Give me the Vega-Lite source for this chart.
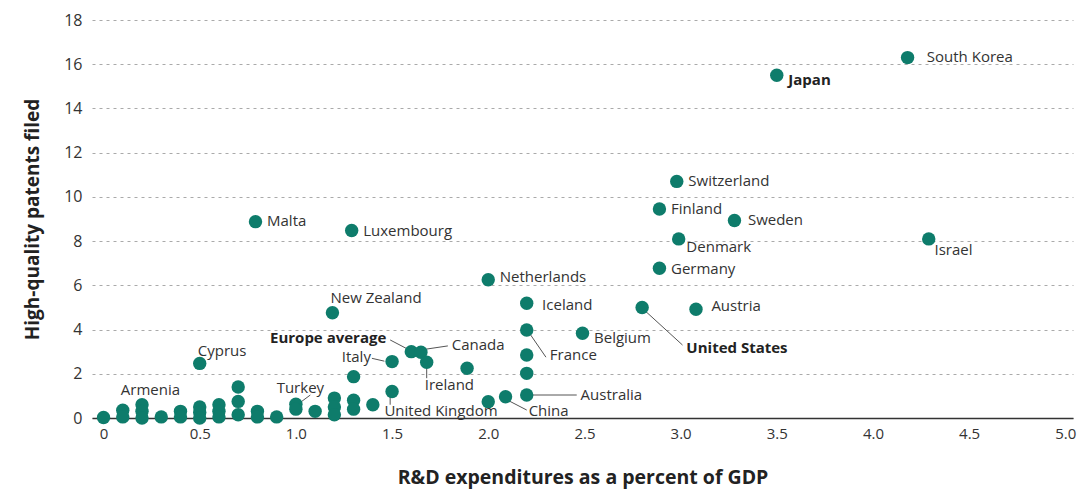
{
  "$schema": "https://vega.github.io/schema/vega-lite/v6.json",
  "width": 981,
  "height": 398,
  "autosize": {"type": "none"},
  "padding": {"left": 92, "top": 20, "right": 6, "bottom": 72},
  "background": "white",
  "config": {
    "view": {"stroke": null},
    "font": "Open Sans"
  },
  "datasets": {
    "points": [
      {"name": "South Korea", "rd": 4.18, "patents": 16.3},
      {"name": "Japan", "rd": 3.5, "patents": 15.5},
      {"name": "Switzerland", "rd": 2.98, "patents": 10.7},
      {"name": "Finland", "rd": 2.89, "patents": 9.45},
      {"name": "Sweden", "rd": 3.28, "patents": 8.93},
      {"name": "Denmark", "rd": 2.99, "patents": 8.1},
      {"name": "Israel", "rd": 4.29, "patents": 8.1},
      {"name": "Germany", "rd": 2.89, "patents": 6.77},
      {"name": "Malta", "rd": 0.79, "patents": 8.88},
      {"name": "Luxembourg", "rd": 1.29, "patents": 8.48},
      {"name": "Netherlands", "rd": 2.0, "patents": 6.25},
      {"name": "New Zealand", "rd": 1.19, "patents": 4.76},
      {"name": "Iceland", "rd": 2.2, "patents": 5.19},
      {"name": "Austria", "rd": 3.08, "patents": 4.92},
      {"name": "United States", "rd": 2.8, "patents": 5.0},
      {"name": "France", "rd": 2.2, "patents": 3.98},
      {"name": "Belgium", "rd": 2.49, "patents": 3.83},
      {"name": "Europe average", "rd": 1.6, "patents": 3.0},
      {"name": "Canada", "rd": 1.65, "patents": 2.97},
      {"name": "Italy", "rd": 1.5, "patents": 2.55},
      {"name": "Ireland", "rd": 1.68, "patents": 2.52},
      {"name": "Cyprus", "rd": 0.5, "patents": 2.47},
      {"name": "", "rd": 1.89, "patents": 2.25},
      {"name": "", "rd": 2.2, "patents": 2.85},
      {"name": "", "rd": 2.2, "patents": 2.02},
      {"name": "", "rd": 1.3, "patents": 1.87},
      {"name": "Australia", "rd": 2.2, "patents": 1.04},
      {"name": "China", "rd": 2.09, "patents": 0.96},
      {"name": "", "rd": 2.0, "patents": 0.74},
      {"name": "United Kingdom", "rd": 1.5, "patents": 1.2},
      {"name": "", "rd": 1.4, "patents": 0.6},
      {"name": "", "rd": 1.3, "patents": 0.8},
      {"name": "", "rd": 1.3, "patents": 0.4},
      {"name": "", "rd": 1.2, "patents": 0.9},
      {"name": "", "rd": 1.2, "patents": 0.5},
      {"name": "", "rd": 1.2, "patents": 0.15},
      {"name": "", "rd": 1.1, "patents": 0.3},
      {"name": "Turkey", "rd": 1.0, "patents": 0.62},
      {"name": "", "rd": 1.0, "patents": 0.4},
      {"name": "", "rd": 0.9, "patents": 0.05},
      {"name": "", "rd": 0.8, "patents": 0.3},
      {"name": "", "rd": 0.8, "patents": 0.05},
      {"name": "", "rd": 0.7, "patents": 1.4},
      {"name": "", "rd": 0.7, "patents": 0.75},
      {"name": "", "rd": 0.7, "patents": 0.15},
      {"name": "", "rd": 0.6, "patents": 0.6},
      {"name": "", "rd": 0.6, "patents": 0.3},
      {"name": "", "rd": 0.6, "patents": 0.05},
      {"name": "", "rd": 0.5, "patents": 0.5},
      {"name": "", "rd": 0.5, "patents": 0.25},
      {"name": "", "rd": 0.5, "patents": 0.0},
      {"name": "", "rd": 0.4, "patents": 0.3},
      {"name": "", "rd": 0.4, "patents": 0.05},
      {"name": "", "rd": 0.3, "patents": 0.05},
      {"name": "Armenia", "rd": 0.2, "patents": 0.6},
      {"name": "", "rd": 0.2, "patents": 0.3},
      {"name": "", "rd": 0.2, "patents": 0.0},
      {"name": "", "rd": 0.1, "patents": 0.35},
      {"name": "", "rd": 0.1, "patents": 0.05},
      {"name": "", "rd": 0.0, "patents": 0.02}
    ],
    "labels": [
      {"name": "South Korea", "lx": 4.28, "ly": 16.33},
      {"name": "Japan", "lx": 3.56, "ly": 15.3},
      {"name": "Switzerland", "lx": 3.04, "ly": 10.7},
      {"name": "Finland", "lx": 2.95, "ly": 9.46},
      {"name": "Sweden", "lx": 3.35, "ly": 8.96},
      {"name": "Denmark", "lx": 3.03, "ly": 7.74},
      {"name": "Israel", "lx": 4.32, "ly": 7.6},
      {"name": "Germany", "lx": 2.95, "ly": 6.74},
      {"name": "Malta", "lx": 0.85, "ly": 8.9},
      {"name": "Luxembourg", "lx": 1.35, "ly": 8.46},
      {"name": "New Zealand", "lx": 1.18, "ly": 5.43},
      {"name": "Netherlands", "lx": 2.06, "ly": 6.38},
      {"name": "Iceland", "lx": 2.28, "ly": 5.11},
      {"name": "Austria", "lx": 3.16, "ly": 5.07},
      {"name": "Belgium", "lx": 2.55, "ly": 3.62},
      {"name": "United States", "lx": 3.03, "ly": 3.17},
      {"name": "France", "lx": 2.32, "ly": 2.85},
      {"name": "Australia", "lx": 2.48, "ly": 1.04},
      {"name": "China", "lx": 2.21, "ly": 0.32},
      {"name": "United Kingdom", "lx": 1.46, "ly": 0.32},
      {"name": "Ireland", "lx": 1.67, "ly": 1.49},
      {"name": "Canada", "lx": 1.81, "ly": 3.3},
      {"name": "Europe average", "lx": 1.47, "ly": 3.62},
      {"name": "Italy", "lx": 1.39, "ly": 2.76},
      {"name": "Cyprus", "lx": 0.49, "ly": 3.05},
      {"name": "Armenia", "lx": 0.09, "ly": 1.27},
      {"name": "Turkey", "lx": 0.9, "ly": 1.35}
    ],
    "leaders": [
      {"name": "United States", "x": 2.82, "y": 4.81, "x2": 3.01, "y2": 3.3},
      {"name": "France", "x": 2.22, "y": 3.76, "x2": 2.3, "y2": 2.75},
      {"name": "Australia", "x": 2.22, "y": 1.04, "x2": 2.46, "y2": 1.04},
      {"name": "China", "x": 2.1, "y": 0.81, "x2": 2.2, "y2": 0.36},
      {"name": "United Kingdom", "x": 1.49, "y": 0.95, "x2": 1.49, "y2": 0.6},
      {"name": "Ireland", "x": 1.68, "y": 2.32, "x2": 1.68, "y2": 1.8},
      {"name": "Canada", "x": 1.65, "y": 3.08, "x2": 1.79, "y2": 3.26},
      {"name": "Europe average", "x": 1.49, "y": 3.53, "x2": 1.58, "y2": 3.12},
      {"name": "Italy", "x": 1.395, "y": 2.7, "x2": 1.46, "y2": 2.57},
      {"name": "Turkey", "x": 1.075, "y": 1.04, "x2": 1.01, "y2": 0.62}
    ]
  },
  "layer": [
    {
      "data": {"name": "leaders"},
      "mark": {"type": "rule", "color": "#555555", "strokeWidth": 1},
      "encoding": {
        "x": {"field": "x", "type": "quantitative", "scale": {"domain": [-0.06, 5.04], "nice": false, "zero": false}},
        "y": {"field": "y", "type": "quantitative", "scale": {"domain": [0, 18], "nice": false}},
        "x2": {"field": "x2"},
        "y2": {"field": "y2"}
      }
    },
    {
      "data": {"name": "points"},
      "mark": {"type": "circle", "color": "#0e7c6b", "opacity": 1, "size": 180, "clip": false},
      "encoding": {
        "x": {
          "field": "rd", "type": "quantitative",
          "scale": {"domain": [-0.06, 5.04], "nice": false, "zero": false},
          "axis": {
            "title": "R&D expenditures as a percent of GDP",
            "values": [0, 0.5, 1, 1.5, 2, 2.5, 3, 3.5, 4, 4.5, 5],
            "labelExpr": "datum.value == 0 ? '0' : format(datum.value, '.1f')",
            "grid": false, "ticks": false,
            "domainColor": "#333333", "domainWidth": 1.5,
            "labelFont": "Open Sans", "labelFontSize": 15, "labelColor": "#333333",
            "labelPadding": 8,
            "titleFont": "Open Sans", "titleFontSize": 19.5, "titleFontWeight": "bold", "titleColor": "#222222",
            "titlePadding": 27
          }
        },
        "y": {
          "field": "patents", "type": "quantitative",
          "scale": {"domain": [0, 18], "nice": false},
          "axis": {
            "title": "High-quality patents filed",
            "values": [0, 2, 4, 6, 8, 10, 12, 14, 16, 18],
            "domain": false, "ticks": false,
            "grid": true, "gridColor": "#aaaaaa", "gridDash": [3, 4], "gridWidth": 1,
            "labelFont": "Open Sans", "labelFontSize": 16, "labelColor": "#333333",
            "labelPadding": 10,
            "titleFont": "Open Sans", "titleFontSize": 19, "titleFontWeight": "bold", "titleColor": "#222222",
            "titlePadding": 21
          }
        }
      }
    },
    {
      "data": {"name": "labels"},
      "transform": [{"filter": "indexof(['Japan','United States','Europe average','Italy'], datum.name) < 0"}],
      "mark": {"type": "text", "align": "left", "baseline": "middle", "font": "Open Sans", "fontSize": 15, "color": "#333333"},
      "encoding": {
        "x": {"field": "lx", "type": "quantitative"},
        "y": {"field": "ly", "type": "quantitative"},
        "text": {"field": "name"}
      }
    },
    {
      "data": {"name": "labels"},
      "transform": [{"filter": "indexof(['Japan','United States'], datum.name) >= 0"}],
      "mark": {"type": "text", "align": "left", "baseline": "middle", "font": "Open Sans", "fontSize": 15, "fontWeight": "bold", "color": "#222222"},
      "encoding": {
        "x": {"field": "lx", "type": "quantitative"},
        "y": {"field": "ly", "type": "quantitative"},
        "text": {"field": "name"}
      }
    },
    {
      "data": {"name": "labels"},
      "transform": [{"filter": "datum.name == 'Europe average'"}],
      "mark": {"type": "text", "align": "right", "baseline": "middle", "font": "Open Sans", "fontSize": 15, "fontWeight": "bold", "color": "#222222"},
      "encoding": {
        "x": {"field": "lx", "type": "quantitative"},
        "y": {"field": "ly", "type": "quantitative"},
        "text": {"field": "name"}
      }
    },
    {
      "data": {"name": "labels"},
      "transform": [{"filter": "datum.name == 'Italy'"}],
      "mark": {"type": "text", "align": "right", "baseline": "middle", "font": "Open Sans", "fontSize": 15, "color": "#333333"},
      "encoding": {
        "x": {"field": "lx", "type": "quantitative"},
        "y": {"field": "ly", "type": "quantitative"},
        "text": {"field": "name"}
      }
    }
  ]
}
